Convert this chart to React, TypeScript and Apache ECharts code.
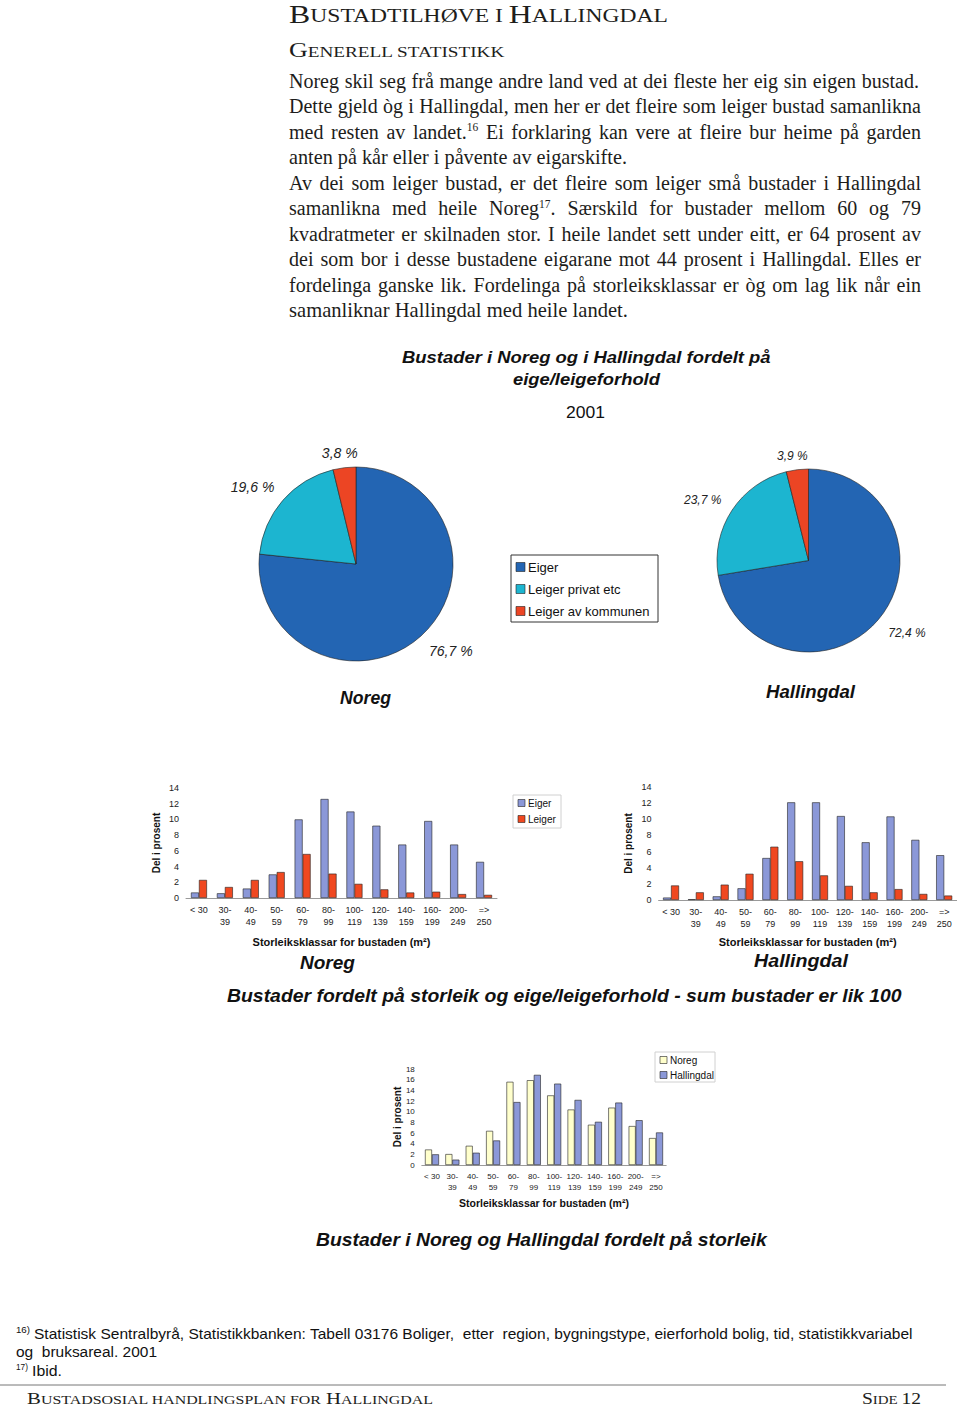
import React, { useEffect, useRef } from 'react';
import * as echarts from 'echarts';

// ---------------- data ----------------
const SIZE_CLASSES = ['< 30', '30-\n39', '40-\n49', '50-\n59', '60-\n79', '80-\n99', '100-\n119', '120-\n139', '140-\n159', '160-\n199', '200-\n249', '=>\n250'];

const NOREG_EIGER = [0.7, 0.6, 1.2, 3.0, 10.0, 12.6, 11.0, 9.2, 6.8, 9.8, 6.8, 4.6];
const NOREG_LEIGER = [2.3, 1.4, 2.3, 3.3, 5.6, 3.1, 1.8, 1.1, 0.7, 0.8, 0.5, 0.4];
const HALL_EIGER = [0.3, 0.1, 0.45, 1.45, 5.2, 12.1, 12.1, 10.4, 7.15, 10.35, 7.45, 5.55];
const HALL_LEIGER = [1.8, 0.95, 1.9, 3.25, 6.6, 4.8, 3.05, 1.75, 0.95, 1.35, 0.75, 0.55];
const TOTAL_NOREG = [2.9, 2.05, 3.6, 6.4, 15.6, 15.9, 13.05, 10.4, 7.55, 10.75, 7.3, 5.05];
const TOTAL_HALL = [2.0, 1.0, 2.3, 4.6, 11.8, 16.9, 15.25, 12.2, 8.1, 11.7, 8.4, 6.1];

const TENURE = ['Eiger', 'Leiger privat etc', 'Leiger av kommunen'];
const PIE_NOREG = [76.7, 19.6, 3.8];
const PIE_HALL = [72.4, 23.7, 3.9];

const PARAGRAPH_LINES = [
  'Noreg skil seg frå mange andre land ved at dei fleste her eig sin eigen bustad.',
  'Dette gjeld òg i Hallingdal, men her er det fleire som leiger bustad samanlikna',
  'med resten av landet.^16 Ei forklaring kan vere at fleire bur heime på garden',
  'anten på kår eller i påvente av eigarskifte.',
  'Av dei som leiger bustad, er det fleire som leiger små bustader i Hallingdal',
  'samanlikna med heile Noreg^17. Særskild for bustader mellom 60 og 79',
  'kvadratmeter er skilnaden stor. I heile landet sett under eitt, er 64 prosent av',
  'dei som bor i desse bustadene eigarane mot 44 prosent i Hallingdal. Elles er',
  'fordelinga ganske lik. Fordelinga på storleiksklassar er òg om lag lik når ein',
  'samanliknar Hallingdal med heile landet.',
];

// ---------------- styling ----------------
const SERIF = 'Liberation Serif';
const SANS = 'Liberation Sans';
const C_EIGER = '#8b98d8';
const C_LEIGER = '#f04820';
const C_NOREG_TOTAL = '#ffffcc';
const PIE_COLORS = ['#2365b3', '#1cb5d0', '#ec4524'];
const INK = '#1d1d1b';

let _ctx: CanvasRenderingContext2D | null = null;
function measure(text: string, size: number, family: string, weight = 'normal', style = 'normal') {
  if (!_ctx) _ctx = document.createElement('canvas').getContext('2d');
  _ctx!.font = `${style} ${weight} ${size}px "${family}"`;
  return _ctx!.measureText(text).width;
}

type TS = { size: number; family: string; weight?: string; style?: string; color?: string };

function textEl(text: string, x: number, y: number, ts: TS, align = 'left', scaleX = 1) {
  return {
    type: 'text', x, y, scaleX, silent: true,
    style: {
      text, fontSize: ts.size, fontFamily: ts.family, fontWeight: ts.weight || 'normal',
      fontStyle: ts.style || 'normal', fill: ts.color || INK, align, verticalAlign: 'middle',
    },
  };
}

function fitText(text: string, left: number, right: number, cy: number, ts: TS) {
  const w = measure(text, ts.size, ts.family, ts.weight, ts.style);
  return textEl(text, left, cy, ts, 'left', (right - left) / w);
}

function smallCaps(str: string, left: number, right: number, baseline: number, big: number, small: number) {
  const segs: { t: string; big: boolean }[] = [];
  for (const ch of str) {
    const isBig = ch !== ch.toLowerCase() || /\d/.test(ch);
    const t = isBig ? ch : ch.toUpperCase();
    const last = segs[segs.length - 1];
    if (last && last.big === isBig) last.t += t;
    else segs.push({ t, big: isBig });
  }
  const widths = segs.map((s) => measure(s.t, s.big ? big : small, SERIF));
  const k = (right - left) / widths.reduce((a, b) => a + b, 0);
  let x = left;
  return segs.map((s, i) => {
    const sz = s.big ? big : small;
    const el = textEl(s.t, x, baseline - 0.34 * sz, { size: sz, family: SERIF }, 'left', k);
    x += widths[i] * k;
    return el;
  });
}

function paragraph() {
  const els: any[] = [];
  const size = 20;
  const supSize = 11.5;
  const left = 289;
  const ends = [919, 921, 921, 627, 921, 921, 921, 921, 921, 628];
  const justified = [true, true, true, false, true, true, true, true, true, false];
  const ts: TS = { size, family: SERIF };
  const sts: TS = { size: supSize, family: SERIF };
  PARAGRAPH_LINES.forEach((line, i) => {
    const base = 87.5 + i * 25.5;
    const words = line.split(' ').map((w) =>
      w.split(/(\^\d+)/).filter((s) => s.length).map((s) => (s[0] === '^' ? { t: s.slice(1), sup: true } : { t: s, sup: false })),
    );
    const ww = words.map((segs) => segs.reduce((a, s) => a + measure(s.t, s.sup ? supSize : size, SERIF), 0));
    const sumW = ww.reduce((a, b) => a + b, 0);
    const space = measure(' ', size, SERIF);
    const target = ends[i] - left;
    let k: number;
    let gap: number;
    if (justified[i]) {
      k = Math.min(1, (target - (words.length - 1) * space * 0.75) / sumW);
      gap = (target - k * sumW) / (words.length - 1);
    } else {
      k = target / (sumW + (words.length - 1) * space);
      gap = space * k;
    }
    let x = left;
    words.forEach((segs, wi) => {
      let sx = x;
      segs.forEach((s) => {
        const sz = s.sup ? supSize : size;
        const y = s.sup ? base - 7.5 - 0.34 * supSize : base - 0.34 * size;
        els.push(textEl(s.t, sx, y, s.sup ? sts : ts, 'left', k));
        sx += k * measure(s.t, sz, SERIF);
      });
      x += k * ww[wi] + gap;
    });
  });
  return els;
}

function legendBox(x: number, y: number, w: number, h: number, items: string[], colors: string[], opts: { rowY: number[]; fs: number; mk: number; border: string }) {
  const els: any[] = [
    { type: 'rect', silent: true, shape: { x, y, width: w, height: h }, style: { fill: '#fff', stroke: opts.border, lineWidth: 1 } },
  ];
  items.forEach((name, i) => {
    const cy = opts.rowY[i];
    els.push({ type: 'rect', silent: true, shape: { x: x + 5, y: cy - opts.mk / 2, width: opts.mk, height: opts.mk }, style: { fill: colors[i], stroke: '#222', lineWidth: 0.6 } });
    els.push(textEl(name, x + 8 + opts.mk, cy, { size: opts.fs, family: SANS, color: '#111' }));
  });
  return els;
}

const AXIS_TITLE = 'Storleiksklassar for bustaden (m²)';

function catAxis(gridIndex: number, fs: number, lh: number, nameGap: number, nameFs: number) {
  return {
    type: 'category', gridIndex, data: SIZE_CLASSES,
    axisLine: { lineStyle: { color: '#9a9a9a', width: 1 } },
    axisTick: { show: false },
    axisLabel: { interval: 0, fontSize: fs, color: '#222', lineHeight: lh, margin: 6, fontFamily: SANS },
    name: AXIS_TITLE, nameLocation: 'middle', nameGap,
    nameTextStyle: { fontWeight: 'bold', fontSize: nameFs, color: '#111', fontFamily: SANS },
  };
}

function valAxis(gridIndex: number, max: number, fs: number, nameGap: number) {
  return {
    type: 'value', gridIndex, min: 0, max, interval: 2,
    axisLine: { show: false }, axisTick: { show: false }, splitLine: { show: false },
    axisLabel: { fontSize: fs, color: '#222', margin: 7, fontFamily: SANS },
    name: 'Del i prosent', nameLocation: 'middle', nameGap, nameRotate: 90,
    nameTextStyle: { fontWeight: 'bold', fontSize: 10, color: '#111', fontFamily: SANS },
  };
}

function barSeries(name: string, data: number[], idx: number, color: string, width: number) {
  return {
    type: 'bar', name, data, xAxisIndex: idx, yAxisIndex: idx, barWidth: width, barGap: '0%',
    itemStyle: { color, borderColor: '#222', borderWidth: 0.6 }, silent: true,
  };
}

function pieSeries(values: number[], center: number[], radius: number, fs: number, len: number, up: number, down: number) {
  return {
    type: 'pie', center, radius, startAngle: 90, clockwise: true, avoidLabelOverlap: false, silent: true,
    data: TENURE.map((n, i) => ({ name: n, value: values[i], itemStyle: { color: PIE_COLORS[i] } })),
    itemStyle: { borderColor: '#222', borderWidth: 0.6 },
    label: {
      position: 'outside', fontSize: fs, fontStyle: 'italic', color: '#222', fontFamily: SANS, distanceToLabelLine: 4,
      formatter: (p: any) => String(p.value).replace('.', ',') + ' %',
    },
    labelLine: { show: false, length: len, length2: 0 },
    labelLayout: (p: any) => {
      const ly = p.labelRect.y + p.labelRect.height / 2;
      const res: any = { dy: ly < center[1] ? -up : down };
      if (p.dataIndex === 2) res.align = 'center';
      return res;
    },
  };
}

export default function App() {
  const ref = useRef<HTMLDivElement>(null);
  useEffect(() => {
    if (!ref.current) return;
    const chart = echarts.init(ref.current, null, { renderer: 'svg', width: 960, height: 1408 });
    const bi: TS = { size: 17, family: SANS, weight: 'bold', style: 'italic', color: '#111' };
    const graphics: any[] = [
      ...smallCaps('Bustadtilhøve i Hallingdal', 289, 668, 22.5, 25, 18.5),
      ...smallCaps('Generell statistikk', 289, 505, 57, 21, 15.5),
      ...paragraph(),
      fitText('Bustader i Noreg og i Hallingdal fordelt på', 402, 771, 357, bi),
      fitText('eige/leigeforhold', 513, 660, 379, bi),
      fitText('2001', 566, 605, 412, { size: 17, family: SANS, color: '#111' }),
      fitText('Noreg', 340, 391, 698, { ...bi, size: 18 }),
      fitText('Hallingdal', 766, 855, 692, { ...bi, size: 18 }),
      ...legendBox(511, 555, 147, 67, TENURE, PIE_COLORS, { rowY: [567, 589, 611], fs: 13, mk: 9, border: '#333' }),
      ...legendBox(513, 795, 48, 33, ['Eiger', 'Leiger'], [C_EIGER, C_LEIGER], { rowY: [803, 819], fs: 10, mk: 7, border: '#d0d0d0' }),
      ...legendBox(655, 1052, 60, 30, ['Noreg', 'Hallingdal'], [C_NOREG_TOTAL, C_EIGER], { rowY: [1060, 1075], fs: 10, mk: 7, border: '#d0d0d0' }),
      fitText('Noreg', 300, 355, 963, { ...bi, size: 19 }),
      fitText('Hallingdal', 754, 848, 961, { ...bi, size: 19 }),
      fitText('Bustader fordelt på storleik og eige/leigeforhold - sum bustader er lik 100', 227, 902, 996, { ...bi, size: 18 }),
      fitText('Bustader i Noreg og Hallingdal fordelt på storleik', 316, 767, 1240, { ...bi, size: 18 }),
      fitText('16)', 16, 30, 1330, { size: 9, family: SANS, color: '#111' }),
      fitText('Statistisk Sentralbyrå, Statistikkbanken: Tabell 03176 Boliger,  etter  region, bygningstype, eierforhold bolig, tid, statistikkvariabel', 34, 913, 1334, { size: 14, family: SANS, color: '#111' }),
      fitText('og  bruksareal. 2001', 16, 157, 1352, { size: 14, family: SANS, color: '#111' }),
      fitText('17)', 16, 28, 1367, { size: 9, family: SANS, color: '#111' }),
      fitText('Ibid.', 32, 62, 1371, { size: 14, family: SANS, color: '#111' }),
      { type: 'line', silent: true, shape: { x1: 0, y1: 1385, x2: 946, y2: 1385 }, style: { stroke: '#777', lineWidth: 1 } },
      ...smallCaps('Bustadsosial handlingsplan for Hallingdal', 27, 433, 1404, 17, 13),
      ...smallCaps('Side 12', 862, 921, 1404, 17, 13),
    ];

    chart.setOption({
      animation: false,
      backgroundColor: '#ffffff',
      grid: [
        { left: 186, top: 788, width: 311, height: 110 },
        { left: 658.6, top: 787, width: 298, height: 113 },
        { left: 421.8, top: 1069, width: 244.4, height: 96 },
      ],
      xAxis: [catAxis(0, 9, 12, 38, 11), catAxis(1, 9, 12, 36, 11), catAxis(2, 8, 11, 32, 10.5)],
      yAxis: [valAxis(0, 14, 9, 25), valAxis(1, 14, 9, 25), valAxis(2, 18, 8, 18)],
      series: [
        pieSeries(PIE_NOREG, [356, 564], 97, 14, 6, 9, 11),
        pieSeries(PIE_HALL, [808.5, 560.5], 91.5, 12, 8, 6, 8),
        barSeries('Eiger', NOREG_EIGER, 0, C_EIGER, 8),
        barSeries('Leiger', NOREG_LEIGER, 0, C_LEIGER, 8),
        barSeries('Eiger', HALL_EIGER, 1, C_EIGER, 8),
        barSeries('Leiger', HALL_LEIGER, 1, C_LEIGER, 8),
        barSeries('Noreg', TOTAL_NOREG, 2, C_NOREG_TOTAL, 7),
        barSeries('Hallingdal', TOTAL_HALL, 2, C_EIGER, 7),
      ],
      graphic: graphics,
    });
    return () => chart.dispose();
  }, []);
  return <div ref={ref} style={{ position: 'absolute', left: 0, top: 0, width: 960, height: 1408 }} />;
}
